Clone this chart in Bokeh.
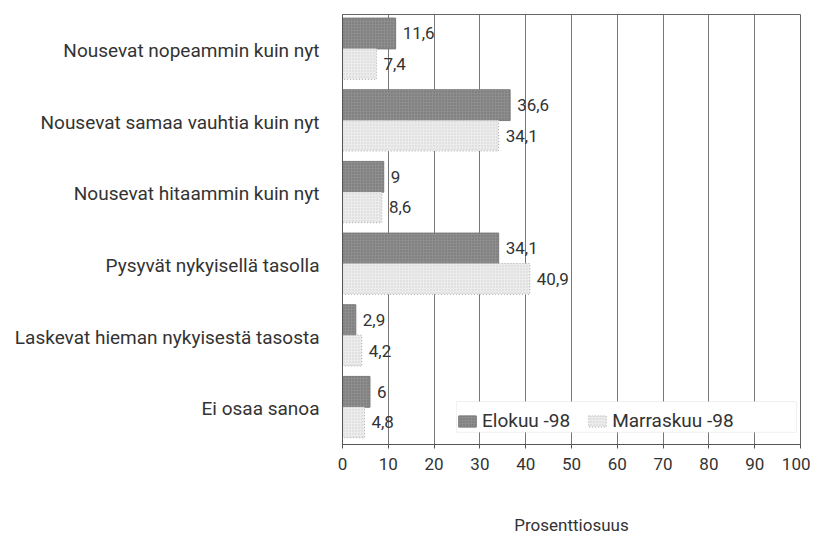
from bokeh.plotting import figure
from bokeh.models import FactorRange, ColumnDataSource, LabelSet, Legend, LegendItem, FixedTicker, BoxAnnotation
from bokeh.transform import dodge
from bokeh.core.properties import value
from bokeh.embed import file_html
from bokeh.resources import INLINE

categories = [
    "Nousevat nopeammin kuin nyt",
    "Nousevat samaa vauhtia kuin nyt",
    "Nousevat hitaammin kuin nyt",
    "Pysyvät nykyisellä tasolla",
    "Laskevat hieman nykyisestä tasosta",
    "Ei osaa sanoa",
]
elokuu = [11.6, 36.6, 9, 34.1, 2.9, 6]
marraskuu = [7.4, 34.1, 8.6, 40.9, 4.2, 4.8]
series_names = ["Elokuu -98", "Marraskuu -98"]
x_ticks = [0, 10, 20, 30, 40, 50, 60, 70, 80, 90, 100]
axis_title = "Prosenttiosuus"

FONT = "Roboto"

def fmt(v):
    s = ("%g" % v)
    return s.replace(".", ",")

src = ColumnDataSource(dict(
    cat=categories,
    e=elokuu, m=marraskuu,
    el=[fmt(v) for v in elokuu],
    ml=[fmt(v) for v in marraskuu],
))

p = figure(width=810, height=540, output_backend="svg", toolbar_location=None,
           y_range=FactorRange(*categories[::-1]), x_range=(0, 100),
           min_border_left=342, min_border_right=10, min_border_top=14, min_border_bottom=96)

r1 = p.hbar(y=dodge("cat", 0.235, range=p.y_range), right="e", left=0, height=0.43, source=src,
            fill_color="#8e8e8e", line_color="#7a7a7a", line_width=1,
            hatch_pattern="dot", hatch_color="#6e6e6e", hatch_scale=3, hatch_weight=1)
r2 = p.hbar(y=dodge("cat", -0.19, range=p.y_range), right="m", left=0, height=0.43, source=src,
            fill_color="#ececec", line_color="#aaaaaa", line_width=1, line_dash="1 2",
            hatch_pattern="dot", hatch_color="#d0d0d0", hatch_scale=3, hatch_weight=1)

p.add_layout(LabelSet(x="e", y=dodge("cat", 0.235, range=p.y_range), text="el", source=src,
                      x_offset=7, text_baseline="middle", text_font=value(FONT), text_font_size=value("17px"),
                      text_color="#333333"))
p.add_layout(LabelSet(x="m", y=dodge("cat", -0.19, range=p.y_range), text="ml", source=src,
                      x_offset=7, text_baseline="middle", text_font=value(FONT), text_font_size=value("17px"),
                      text_color="#333333"))

p.xaxis.ticker = FixedTicker(ticks=x_ticks)
p.xaxis.major_label_text_font = FONT
p.xaxis.major_label_text_font_size = "17px"
p.xaxis.major_label_text_color = "#333333"
p.xaxis.major_label_standoff = 9
p.xaxis.major_tick_in = 0
p.xaxis.major_tick_out = 4
p.xaxis.minor_tick_line_color = None
p.xaxis.axis_line_color = "#555555"
p.xaxis.major_tick_line_color = "#555555"
p.xaxis.axis_label = axis_title
p.xaxis.axis_label_text_font = FONT
p.xaxis.axis_label_text_font_size = "17px"
p.xaxis.axis_label_text_font_style = "normal"
p.xaxis.axis_label_text_color = "#333333"
p.xaxis.axis_label_standoff = 42

p.yaxis.major_label_text_font = FONT
p.yaxis.major_label_text_font_size = "19px"
p.yaxis.major_label_text_color = "#333333"
p.yaxis.major_tick_line_color = None
p.yaxis.minor_tick_line_color = None
p.yaxis.major_label_standoff = 17
p.yaxis.axis_line_color = "#555555"

p.ygrid.grid_line_color = None
p.xgrid.grid_line_color = "#777777"
p.xgrid.grid_line_width = 1
p.outline_line_color = "#666666"

# legend frame (wider than the items, as in the original)
p.add_layout(BoxAnnotation(left=24.9, right=99.1, bottom=0.17, top=0.6,
                           fill_color="white", fill_alpha=1, line_color="#cccccc", line_width=1))

legend = Legend(items=[LegendItem(label=series_names[0], renderers=[r1]),
                       LegendItem(label=series_names[1], renderers=[r2])],
                orientation="horizontal", location=(114, 12),
                label_text_font=FONT, label_text_font_size="19px", label_text_color="#333333",
                border_line_color=None, background_fill_alpha=0,
                glyph_width=22, glyph_height=14, spacing=16, padding=6, margin=0,
                label_standoff=4)
p.add_layout(legend)

open("out.html", "w").write(file_html(p, INLINE))
